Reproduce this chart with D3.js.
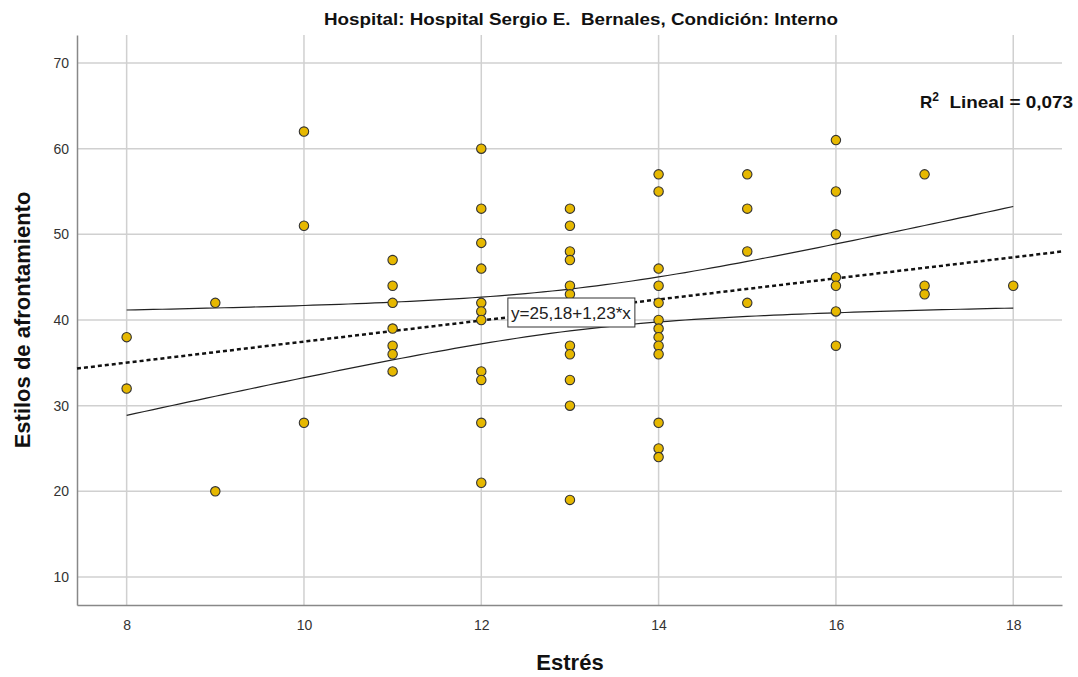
<!DOCTYPE html>
<html>
<head>
<meta charset="utf-8">
<script src="https://cdn.jsdelivr.net/npm/d3@7"></script>
<style>
  body { margin: 0; background: #fff; }
  text { font-family: "Liberation Sans", Arial, sans-serif; }
</style>
</head>
<body>
<script>
// points: one array of y values per x (Estrés)
const estres = [8, 9, 10, 11, 12, 13, 14, 15, 16, 17, 18];
const afrontamiento = [
  [38, 32],
  [42, 20],
  [62, 51, 28],
  [47, 44, 42, 39, 37, 36, 34],
  [60, 53, 49, 46, 42, 41, 40, 34, 33, 28, 21],
  [53, 51, 48, 47, 44, 43, 37, 36, 33, 30, 19],
  [57, 55, 46, 44, 42, 40, 39, 38, 37, 36, 28, 25, 24],
  [57, 53, 48, 42],
  [61, 55, 50, 45, 44, 41, 37],
  [57, 44, 43],
  [44]
];
const xTicks = [8, 10, 12, 14, 16, 18];
const yTicks = [10, 20, 30, 40, 50, 60, 70];
const intercept = 25.18;
const slope = 1.23;

const width = 1078;
const height = 677;
const margin = { top: 35, right: 16, bottom: 72, left: 77 };

const svg = d3.select('body')
  .append('svg')
  .attr('width', width)
  .attr('height', height);

const x = d3.scaleLinear()
  .domain([7.44, 18.55])
  .range([margin.left, width - margin.right]);
const y = d3.scaleLinear()
  .domain([6.73, 73.27])
  .range([height - margin.bottom, margin.top]);

const points = [];
estres.forEach((xv, i) => {
  afrontamiento[i].forEach(yv => points.push({ x: xv, y: yv }));
});

// grid
svg.append('g')
  .selectAll('line')
  .data(yTicks)
  .join('line')
  .attr('x1', x.range()[0]).attr('x2', x.range()[1])
  .attr('y1', d => y(d)).attr('y2', d => y(d))
  .attr('stroke', '#d0d0d0').attr('stroke-width', 1.5);
svg.append('g')
  .selectAll('line')
  .data(xTicks)
  .join('line')
  .attr('x1', d => x(d)).attr('x2', d => x(d))
  .attr('y1', y.range()[0]).attr('y2', y.range()[1])
  .attr('stroke', '#d0d0d0').attr('stroke-width', 1.5);

// axes
const xAxis = svg.append('g')
  .attr('transform', `translate(0,${y.range()[0]})`)
  .call(d3.axisBottom(x).tickValues(xTicks).tickSize(0).tickPadding(15));
const yAxis = svg.append('g')
  .attr('transform', `translate(${x.range()[0]},0)`)
  .call(d3.axisLeft(y).tickValues(yTicks).tickSize(0).tickPadding(8));
[xAxis, yAxis].forEach(g => {
  g.select('.domain').attr('stroke', '#888').attr('stroke-width', 1.5);
  g.selectAll('text')
    .attr('fill', '#333')
    .style('font-size', '14px')
    .style('font-family', '"Liberation Sans", Arial, sans-serif');
});

// 95% confidence band for the mean, from the fit and the points
const n = points.length;
const xMean = d3.mean(points, d => d.x);
const sxx = d3.sum(points, d => (d.x - xMean) ** 2);
const sse = d3.sum(points, d => (d.y - (intercept + slope * d.x)) ** 2);
const s = Math.sqrt(sse / (n - 2));
const t = 1.999;
const fit = v => intercept + slope * v;
const half = v => t * s * Math.sqrt(1 / n + (v - xMean) ** 2 / sxx);
const bandX = d3.range(8, 18.001, 0.1);

const line = d3.line().x(d => x(d[0])).y(d => y(d[1]));
svg.append('path')
  .attr('d', line(bandX.map(v => [v, fit(v) + half(v)])))
  .attr('fill', 'none').attr('stroke', '#222').attr('stroke-width', 1.2);
svg.append('path')
  .attr('d', line(bandX.map(v => [v, fit(v) - half(v)])))
  .attr('fill', 'none').attr('stroke', '#222').attr('stroke-width', 1.2);

// fit line
svg.append('path')
  .attr('d', line(x.domain().map(v => [v, fit(v)])))
  .attr('fill', 'none').attr('stroke', '#111')
  .attr('stroke-width', 2.5).attr('stroke-dasharray', '4,3');

// points
svg.append('g')
  .selectAll('circle')
  .data(points)
  .join('circle')
  .attr('cx', d => x(d.x))
  .attr('cy', d => y(d.y))
  .attr('r', 4.7)
  .attr('fill', '#e6b800')
  .attr('stroke', '#333')
  .attr('stroke-width', 1.1);

// equation label
const lab = svg.append('g').attr('transform', `translate(${x(12.3)},${y(40.7)})`);
lab.append('rect')
  .attr('x', 0).attr('y', -16)
  .attr('width', 127).attr('height', 29)
  .attr('fill', '#fff').attr('stroke', '#333').attr('stroke-width', 1);
lab.append('text')
  .attr('x', 3).attr('y', 5)
  .attr('fill', '#222')
  .style('font-size', '16px')
  .attr('textLength', 120)
  .attr('lengthAdjust', 'spacingAndGlyphs')
  .text('y=25,18+1,23*x');

// R² label
const r2 = svg.append('text')
  .attr('x', 1073)
  .attr('y', 108)
  .attr('text-anchor', 'end')
  .attr('fill', '#111')
  .style('font-size', '17px')
  .style('font-weight', 'bold');
r2.append('tspan').text('R');
r2.append('tspan').attr('dy', -7).style('font-size', '12px').text('2');
r2.append('tspan').attr('dy', 7)
  .attr('textLength', 134).attr('lengthAdjust', 'spacingAndGlyphs')
  .text('\u00a0 Lineal = 0,073');

// title
svg.append('text')
  .attr('x', 324)
  .attr('y', 25)
  .attr('fill', '#111')
  .style('font-size', '17px')
  .style('font-weight', 'bold')
  .attr('textLength', 514)
  .attr('lengthAdjust', 'spacingAndGlyphs')
  .text('Hospital: Hospital Sergio E.\u00a0 Bernales, Condición: Interno');

// axis titles
svg.append('text')
  .attr('x', 570)
  .attr('y', 670)
  .attr('text-anchor', 'middle')
  .attr('fill', '#111')
  .style('font-size', '22px')
  .style('font-weight', 'bold')
  .text('Estrés');
svg.append('text')
  .attr('transform', `translate(30,${(y.range()[0] + y.range()[1]) / 2}) rotate(-90)`)
  .attr('text-anchor', 'middle')
  .attr('fill', '#111')
  .style('font-size', '22px')
  .style('font-weight', 'bold')
  .text('Estilos de afrontamiento');
</script>
</body>
</html>
